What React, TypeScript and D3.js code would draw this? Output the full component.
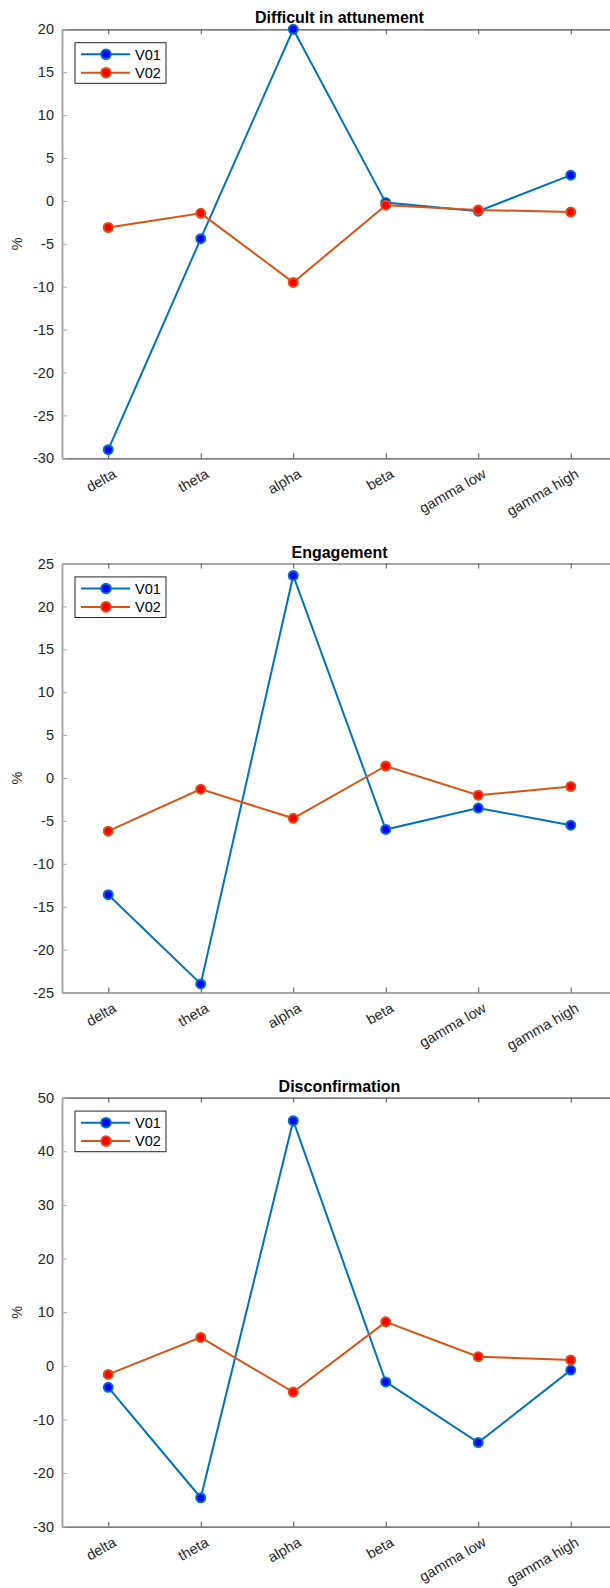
import React, { useEffect, useRef } from 'react';
import * as d3 from 'd3';

// frequency bands on the x axis
const bands = ['delta', 'theta', 'alpha', 'beta', 'gamma low', 'gamma high'];
const titles = ['Difficult in attunement', 'Engagement', 'Disconfirmation'];
const seriesNames = ['V01', 'V02'];

const attuneV01 = [-29, -4.4, 20, -0.2, -1.2, 3];
const attuneV02 = [-3.1, -1.45, -9.5, -0.5, -1.05, -1.3];
const engageV01 = [-13.6, -24, 23.6, -6, -3.5, -5.5];
const engageV02 = [-6.2, -1.3, -4.7, 1.4, -2, -1];
const disconfV01 = [-4, -24.6, 45.7, -3, -14.3, -0.8];
const disconfV02 = [-1.6, 5.3, -4.9, 8.2, 1.7, 1.1];

const yDomains = [[-30, 20], [-25, 25], [-30, 50]];
const yTicks = [
  [-30, -25, -20, -15, -10, -5, 0, 5, 10, 15, 20],
  [-25, -20, -15, -10, -5, 0, 5, 10, 15, 20, 25],
  [-30, -20, -10, 0, 10, 20, 30, 40, 50],
];

const panels = [
  [attuneV01, attuneV02],
  [engageV01, engageV02],
  [disconfV01, disconfV02],
];

const lineColors = ['#0072BD', '#D95319'];
const faceColors = ['#0000FF', '#FF0000'];

const W = 610;
const H = 1588;
const left = 62;
const right = 617;
const firstTop = 29.3;
const panelStep = 534.2;
const plotH = 429;
const font = 'Arial, "Liberation Sans", Helvetica, sans-serif';

const App = () => {
  const svgRef = useRef<SVGSVGElement>(null);

  useEffect(() => {
    const svg = d3.select(svgRef.current);
    svg.selectAll('*').remove();

    const x = d3.scaleLinear().domain([0.5, 6.5]).range([left, right]);

    panels.forEach((series, p) => {
      const top = firstTop + panelStep * p;
      const bottom = top + plotH;
      const y = d3.scaleLinear().domain(yDomains[p]).range([bottom, top]);
      const g = svg.append('g');

      // top axis line + ticks
      const topAxis = d3.axisTop(x).tickValues([1, 2, 3, 4, 5, 6]).tickSize(-5).tickSizeOuter(0).tickFormat(() => '');
      g.append('g').attr('transform', `translate(0,${top})`).call(topAxis);

      // bottom axis with rotated labels
      const bottomAxis = d3.axisBottom(x).tickValues([1, 2, 3, 4, 5, 6]).tickSize(-5).tickSizeOuter(0)
        .tickFormat((d) => bands[(d as number) - 1]);
      const bx = g.append('g').attr('transform', `translate(0,${bottom})`).call(bottomAxis);
      bx.selectAll('text')
        .attr('y', 0)
        .attr('dy', '0.75em')
        .attr('text-anchor', 'end')
        .attr('transform', 'translate(3,9) rotate(-30)');

      // left axis (plain hyphen minus, like the source)
      const leftAxis = d3.axisLeft(y).tickValues(yTicks[p]).tickSize(-5).tickSizeOuter(0).tickPadding(8)
        .tickFormat((d) => String(d));
      const lx = g.append('g').attr('transform', `translate(${left},0)`).call(leftAxis);
      lx.select('.domain').attr('stroke', '#a8a8a8').attr('stroke-width', 2);
      lx.selectAll('.tick line').attr('stroke', '#a8a8a8');

      g.selectAll('.domain').filter(function () { return this.parentNode !== lx.node(); })
        .attr('stroke', '#505050').attr('stroke-width', 1.2);
      g.selectAll('text').attr('font-family', font).attr('font-size', 14.5).attr('fill', '#262626');
      g.selectAll('.tick line').filter(function () { return (this as any).parentNode.parentNode !== lx.node(); })
        .attr('stroke', '#505050');

      // y label
      g.append('text')
        .attr('transform', `translate(22,${(top + bottom) / 2}) rotate(-90)`)
        .attr('text-anchor', 'middle')
        .attr('font-family', font)
        .attr('font-size', 14.5)
        .attr('fill', '#262626')
        .text('%');

      // title
      g.append('text')
        .attr('x', (left + right) / 2)
        .attr('y', top - 6)
        .attr('text-anchor', 'middle')
        .attr('font-family', font)
        .attr('font-size', 16)
        .attr('font-weight', 'bold')
        .attr('fill', '#000')
        .text(titles[p]);

      const line = d3.line<number>()
        .x((_, i) => x(i + 1))
        .y((d) => y(d));

      series.forEach((vals, s) => {
        g.append('path')
          .datum(vals)
          .attr('d', line)
          .attr('fill', 'none')
          .attr('stroke', lineColors[s])
          .attr('stroke-width', 2);
        g.selectAll(null)
          .data(vals)
          .enter()
          .append('circle')
          .attr('cx', (_, i) => x(i + 1))
          .attr('cy', (d) => y(d))
          .attr('r', 4.5)
          .attr('fill', faceColors[s])
          .attr('stroke', lineColors[s])
          .attr('stroke-width', 2);
      });

      // legend
      const lg = g.append('g').attr('transform', `translate(75,${top + 13.4})`);
      lg.append('rect')
        .attr('width', 91)
        .attr('height', 40.6)
        .attr('fill', '#fff')
        .attr('stroke', '#262626')
        .attr('stroke-width', 1);
      seriesNames.forEach((name, s) => {
        const cy = 11.6 + s * 18.4;
        lg.append('line')
          .attr('x1', 6).attr('x2', 55)
          .attr('y1', cy).attr('y2', cy)
          .attr('stroke', lineColors[s])
          .attr('stroke-width', 2);
        lg.append('circle')
          .attr('cx', 31).attr('cy', cy).attr('r', 4.8)
          .attr('fill', faceColors[s])
          .attr('stroke', lineColors[s])
          .attr('stroke-width', 2);
        lg.append('text')
          .attr('x', 60).attr('y', cy)
          .attr('dy', '0.36em')
          .attr('font-family', font)
          .attr('font-size', 14.5)
          .attr('fill', '#000')
          .text(name);
      });
    });
  }, []);

  return (
    <div style={{ position: 'absolute', left: 0, top: 0 }}>
      <svg ref={svgRef} width={W} height={H} style={{ display: 'block', background: '#fff' }}></svg>
    </div>
  );
};

export default App;
